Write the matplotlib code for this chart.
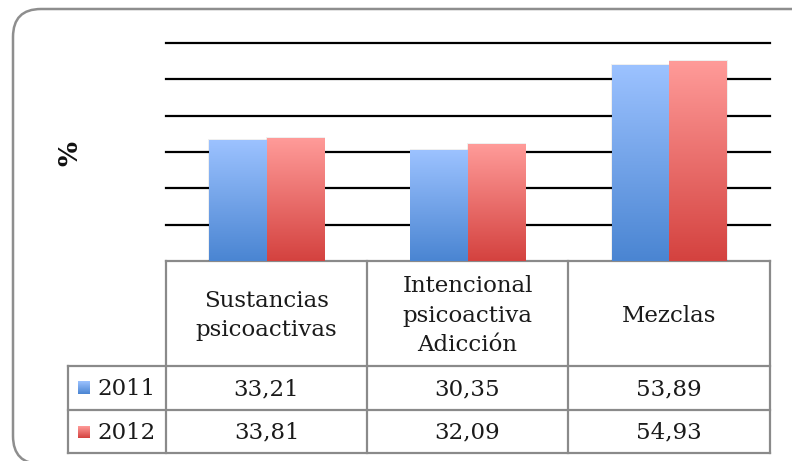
import numpy as np
import matplotlib.pyplot as plt
from matplotlib.patches import FancyBboxPatch, Rectangle
from matplotlib.colors import LinearSegmentedColormap

categories = ["Sustancias\npsicoactivas", "Intencional\npsicoactiva\nAdicción", "Mezclas"]
years = ["2011", "2012"]
v2011 = [33.21, 30.35, 53.89]
v2012 = [33.81, 32.09, 54.93]
labels2011 = ["33,21", "30,35", "53,89"]
labels2012 = ["33,81", "32,09", "54,93"]

W, H = 792, 461
fig = plt.figure(figsize=(W / 100, H / 100), dpi=100)

# pixel-coordinate overlay for frame and table
bg = fig.add_axes([0, 0, 1, 1])
bg.set_xlim(0, W)
bg.set_ylim(H, 0)
bg.axis("off")

frame = FancyBboxPatch((13, 9), 808, 455, boxstyle="round,pad=0,rounding_size=28",
                       fc="white", ec="#8e8e8e", lw=1.8, zorder=0)
bg.add_patch(frame)

blue = LinearSegmentedColormap.from_list("b", ["#4a85d2", "#9cc2ff"])
red = LinearSegmentedColormap.from_list("r", ["#d4423f", "#ff9b99"])
grad = np.linspace(0, 1, 256).reshape(-1, 1)

# bar area
x0, x1, ytop, ybot = 166, 770, 43, 261
ax = fig.add_axes([x0 / W, (H - ybot) / H, (x1 - x0) / W, (ybot - ytop) / H])
ax.set_xlim(0, 3)
ax.set_ylim(0, 60)
ax.axis("off")
for y in range(10, 61, 10):
    ax.axhline(y, color="black", lw=1.6, zorder=1, clip_on=False)

bw = 0.286
x = np.arange(3) + 0.5
for vals, cmap, off in [(v2011, blue, -bw / 2), (v2012, red, bw / 2)]:
    bars = ax.bar(x + off, vals, bw, color="none", ec="none", zorder=2)
    for b in bars:
        bx, h = b.get_x(), b.get_height()
        ax.add_patch(Rectangle((bx - 0.004, 0), bw + 0.008, h + 0.4, fc="#00000010", ec="none", zorder=2))
        ax.imshow(grad, extent=[bx, bx + bw, 0, h], origin="lower", aspect="auto",
                  cmap=cmap, zorder=3)
ax.set_xlim(0, 3)
ax.set_ylim(0, 60)

bg.text(70, 153, "%", rotation=90, ha="center", va="center", fontsize=19,
        fontweight="bold", family="DejaVu Serif", color="#111111")

# data table
cols = [166, 367, 568, 770]
rows = [261, 366, 410, 453]
lc = "#8a8a8a"
bg.plot([166, 770], [261, 261], color=lc, lw=1.6)
for yy in rows[1:]:
    bg.plot([68, 770], [yy, yy], color=lc, lw=1.6)
for xx in cols:
    bg.plot([xx, xx], [261, 453], color=lc, lw=1.6)
bg.plot([68, 68], [366, 453], color=lc, lw=1.6)

font = dict(family="DejaVu Serif", fontsize=16.5, color="#1a1a1a")
for i, cat in enumerate(categories):
    cx = (cols[i] + cols[i + 1]) / 2
    bg.text(cx, (rows[0] + rows[1]) / 2 + 2, cat, ha="center", va="center",
            linespacing=1.45, **font)
    bg.text(cx, (rows[1] + rows[2]) / 2 + 1, labels2011[i], ha="center", va="center", **font)
    bg.text(cx, (rows[2] + rows[3]) / 2 + 1, labels2012[i], ha="center", va="center", **font)

for r, (yr, cmap) in enumerate(zip(years, [blue, red])):
    cy = (rows[r + 1] + rows[r + 2]) / 2
    bg.imshow(grad, extent=[78, 90, cy + 6, cy - 6], origin="lower", aspect="auto",
              cmap=cmap, zorder=3)
    bg.text(97, cy + 1, yr, ha="left", va="center", **font)

bg.set_xlim(0, W)
bg.set_ylim(H, 0)
fig.savefig("out.png", dpi=100)
